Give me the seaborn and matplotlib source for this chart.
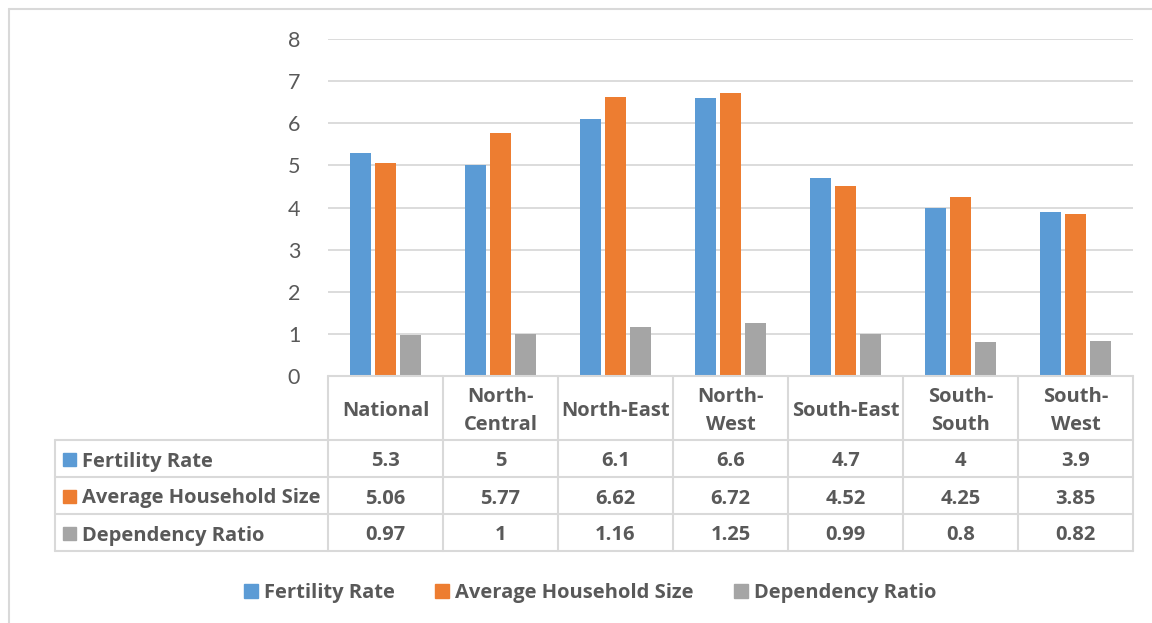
import pandas as pd
import matplotlib.pyplot as plt
import seaborn as sns
from matplotlib.lines import Line2D
from matplotlib.patches import Rectangle

regions = ["National", "North-Central", "North-East", "North-West",
           "South-East", "South-South", "South-West"]
region_labels = ["National", "North-\nCentral", "North-East", "North-\nWest",
                 "South-East", "South-\nSouth", "South-\nWest"]
series = ["Fertility Rate", "Average Household Size", "Dependency Ratio"]
fertility_rate = [5.3, 5, 6.1, 6.6, 4.7, 4, 3.9]
household_size = [5.06, 5.77, 6.62, 6.72, 4.52, 4.25, 3.85]
dependency_ratio = [0.97, 1, 1.16, 1.25, 0.99, 0.8, 0.82]
table_text = [["5.3", "5", "6.1", "6.6", "4.7", "4", "3.9"],
              ["5.06", "5.77", "6.62", "6.72", "4.52", "4.25", "3.85"],
              ["0.97", "1", "1.16", "1.25", "0.99", "0.8", "0.82"]]
colors = ["#5B9BD5", "#ED7D31", "#A5A5A5"]

df = pd.DataFrame({
    "Region": regions * 3,
    "Series": [s for s in series for _ in regions],
    "Value": fertility_rate + household_size + dependency_ratio,
})

sns.set_theme(style="white")
plt.rcParams["font.family"] = ["Lato", "DejaVu Sans"]
TXT = "#595959"
GRID = "#D9D9D9"
BOLD = dict(family=["Open Sans", "DejaVu Sans"], fontweight="bold", fontsize=14.5, color=TXT)

W, H = 1152, 623
fig = plt.figure(figsize=(W / 100, H / 100), dpi=100)

def fx(px):
    return px / W

def fy(py):
    return 1 - py / H

# axes from x=328..1133, y=39..376 pixels
ax = fig.add_axes([fx(328), fy(376), fx(1133) - fx(328), fy(39) - fy(376)])
sns.barplot(data=df, x="Region", y="Value", hue="Series", hue_order=series,
            palette=colors, width=0.65, gap=0.15, ax=ax, legend=False,
            saturation=1, edgecolor="none")
ax.set_xlim(-0.5, 6.5)
ax.set_ylim(0, 8)
ax.set_yticks(range(0, 9))
ax.yaxis.grid(True, color=GRID, lw=1.3)
ax.set_axisbelow(True)
ax.set_xlabel("")
ax.set_ylabel("")
ax.set_xticks([])
for s in ax.spines.values():
    s.set_visible(False)
ax.tick_params(axis="y", length=0, pad=20, labelsize=15.5, labelcolor=TXT)

# data table drawn under the axes
col_edges = [328 + 115 * i for i in range(8)]
rows_y = [376, 440, 477, 514, 551]

def hline(y, x0, x1):
    fig.add_artist(Line2D([fx(x0), fx(x1)], [fy(y), fy(y)], color=GRID, lw=1.5,
                          transform=fig.transFigure))

def vline(x, y0, y1):
    fig.add_artist(Line2D([fx(x), fx(x)], [fy(y0), fy(y1)], color=GRID, lw=1.5,
                          transform=fig.transFigure))

hline(376, 328, 1133)
for y in rows_y[1:]:
    hline(y, 55, 1133)
vline(55, 440, 551)
for x in col_edges:
    vline(x, 376, 551)

for i, lab in enumerate(region_labels):
    cx = (col_edges[i] + col_edges[i + 1]) / 2
    fig.text(fx(cx), fy(411), lab, ha="center", va="center", linespacing=1.5, **BOLD)
    for r in range(3):
        cy = (rows_y[r + 1] + rows_y[r + 2]) / 2
        fig.text(fx(cx), fy(cy + 3), table_text[r][i], ha="center", va="center", **BOLD)

for r in range(3):
    cy = (rows_y[r + 1] + rows_y[r + 2]) / 2
    fig.add_artist(Rectangle((fx(63), fy(cy + 7)), fx(13), fy(0) - fy(13),
                             color=colors[r], transform=fig.transFigure))
    fig.text(fx(82), fy(cy + 3), series[r], ha="left", va="center", **BOLD)

# legend
handles = [Rectangle((0, 0), 1, 1, color=c) for c in colors]
fig.legend(handles, series, loc="center", bbox_to_anchor=(fx(590), fy(593)),
           ncol=3, frameon=False, handlelength=0.7, handleheight=0.7,
           handletextpad=0.3, columnspacing=2.0,
           prop={"family": ["Open Sans", "DejaVu Sans"], "weight": "bold", "size": 14.5})
for t in fig.legends[0].get_texts():
    t.set_color(TXT)

# outer chart border (only top and left edges show)
hline(9, 9, W)
vline(9, 9, H)

fig.savefig("out.png", dpi=100)
